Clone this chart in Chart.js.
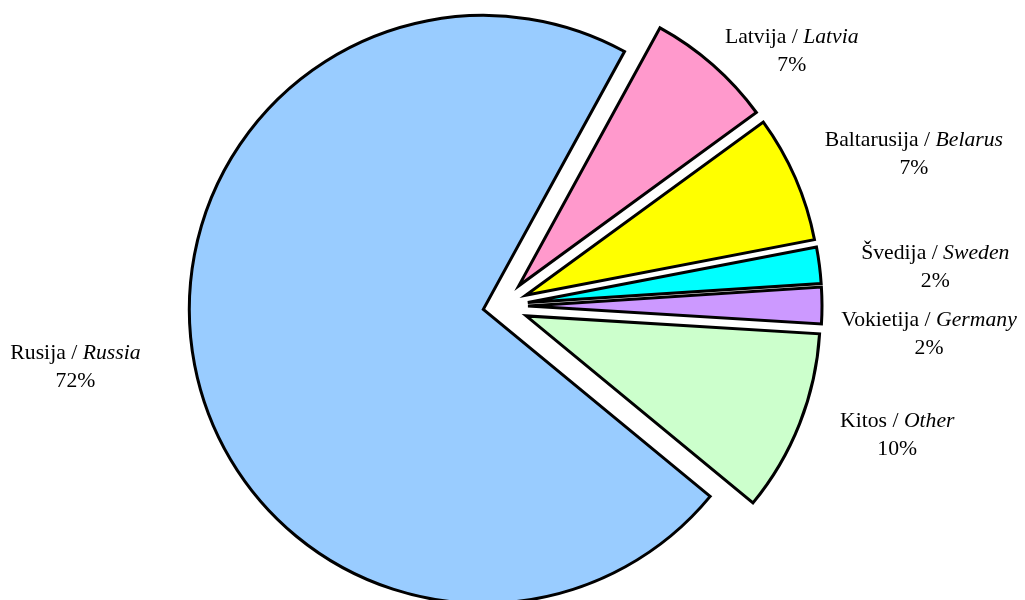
<!DOCTYPE html>
<html>
<head>
<meta charset="utf-8">
<script src="https://cdn.jsdelivr.net/npm/chart.js@4.4.0/dist/chart.umd.min.js"></script>
<style>
  html, body { margin: 0; padding: 0; background: #fff; }
</style>
</head>
<body>
<canvas id="exportPie" width="1025" height="600"></canvas>
<script>
const countriesLt = ['Latvija', 'Baltarusija', 'Švedija', 'Vokietija', 'Kitos', 'Rusija'];
const countriesEn = ['Latvia', 'Belarus', 'Sweden', 'Germany', 'Other', 'Russia'];
const shares = [7, 7, 2, 2, 10, 72];

const sliceColors = ['#FF99CC', '#FFFF00', '#00FFFF', '#CC99FF', '#CCFFCC', '#99CCFF'];
// px each slice is pulled out from the centre
const explodeBy = [27, 27, 27, 27, 27, 18];
// label placement: [degrees past the slice middle, px beyond the rim]
const labelAt = [[8, 66], [3.5, 119], [2.4, 115], [4.1, 108], [-3.6, 96], [2.8, 118]];

const FONT = '"Liberation Serif", "Times New Roman", serif';
const FONT_SIZE = 21.7;

// push each arc out along its own middle angle
const explodePlugin = {
    id: 'explodeSlices',
    afterDatasetsUpdate(chart) {
        const area = chart.chartArea;
        const cx = (area.left + area.right) / 2;
        const cy = (area.top + area.bottom) / 2;
        chart.getDatasetMeta(0).data.forEach((arc, i) => {
            const mid = (arc.startAngle + arc.endAngle) / 2;
            arc.x = cx + Math.cos(mid) * explodeBy[i];
            arc.y = cy + Math.sin(mid) * explodeBy[i];
        });
    }
};

// "Lietuviškai / English" with the English part in italics, percent below
const labelPlugin = {
    id: 'sliceLabels',
    afterDatasetsDraw(chart) {
        const ctx = chart.ctx;
        const plain = FONT_SIZE + 'px ' + FONT;
        const italic = 'italic ' + FONT_SIZE + 'px ' + FONT;
        ctx.save();
        ctx.fillStyle = '#000';
        ctx.textBaseline = 'middle';
        chart.getDatasetMeta(0).data.forEach((arc, i) => {
            const ang = (arc.startAngle + arc.endAngle) / 2 + labelAt[i][0] * Math.PI / 180;
            const dist = arc.outerRadius + labelAt[i][1];
            const bx = arc.x + Math.cos(ang) * dist;
            const by = arc.y + Math.sin(ang) * dist;

            const lt = countriesLt[i] + ' / ';
            const en = countriesEn[i];
            ctx.font = plain;
            const wLt = ctx.measureText(lt).width;
            ctx.font = italic;
            const wEn = ctx.measureText(en).width;
            const x = bx - (wLt + wEn) / 2;

            ctx.textAlign = 'left';
            ctx.font = plain;
            ctx.fillText(lt, x, by - 14);
            ctx.font = italic;
            ctx.fillText(en, x + wLt, by - 14);

            ctx.textAlign = 'center';
            ctx.font = plain;
            ctx.fillText(shares[i] + '%', bx, by + 14);
        });
        ctx.restore();
    }
};

new Chart(document.getElementById('exportPie'), {
    type: 'pie',
    data: {
        labels: countriesLt,
        datasets: [{
            data: shares,
            backgroundColor: sliceColors,
            borderColor: '#000',
            borderWidth: 3,
            borderAlign: 'center',
            borderJoinStyle: 'miter',
            hoverOffset: 0
        }]
    },
    options: {
        responsive: false,
        animation: false,
        rotation: 28.7,
        radius: 294,
        layout: { padding: { left: 0, right: 23, top: 12, bottom: 0 } },
        plugins: {
            legend: { display: false },
            tooltip: { enabled: false }
        }
    },
    plugins: [explodePlugin, labelPlugin]
});
</script>
</body>
</html>
